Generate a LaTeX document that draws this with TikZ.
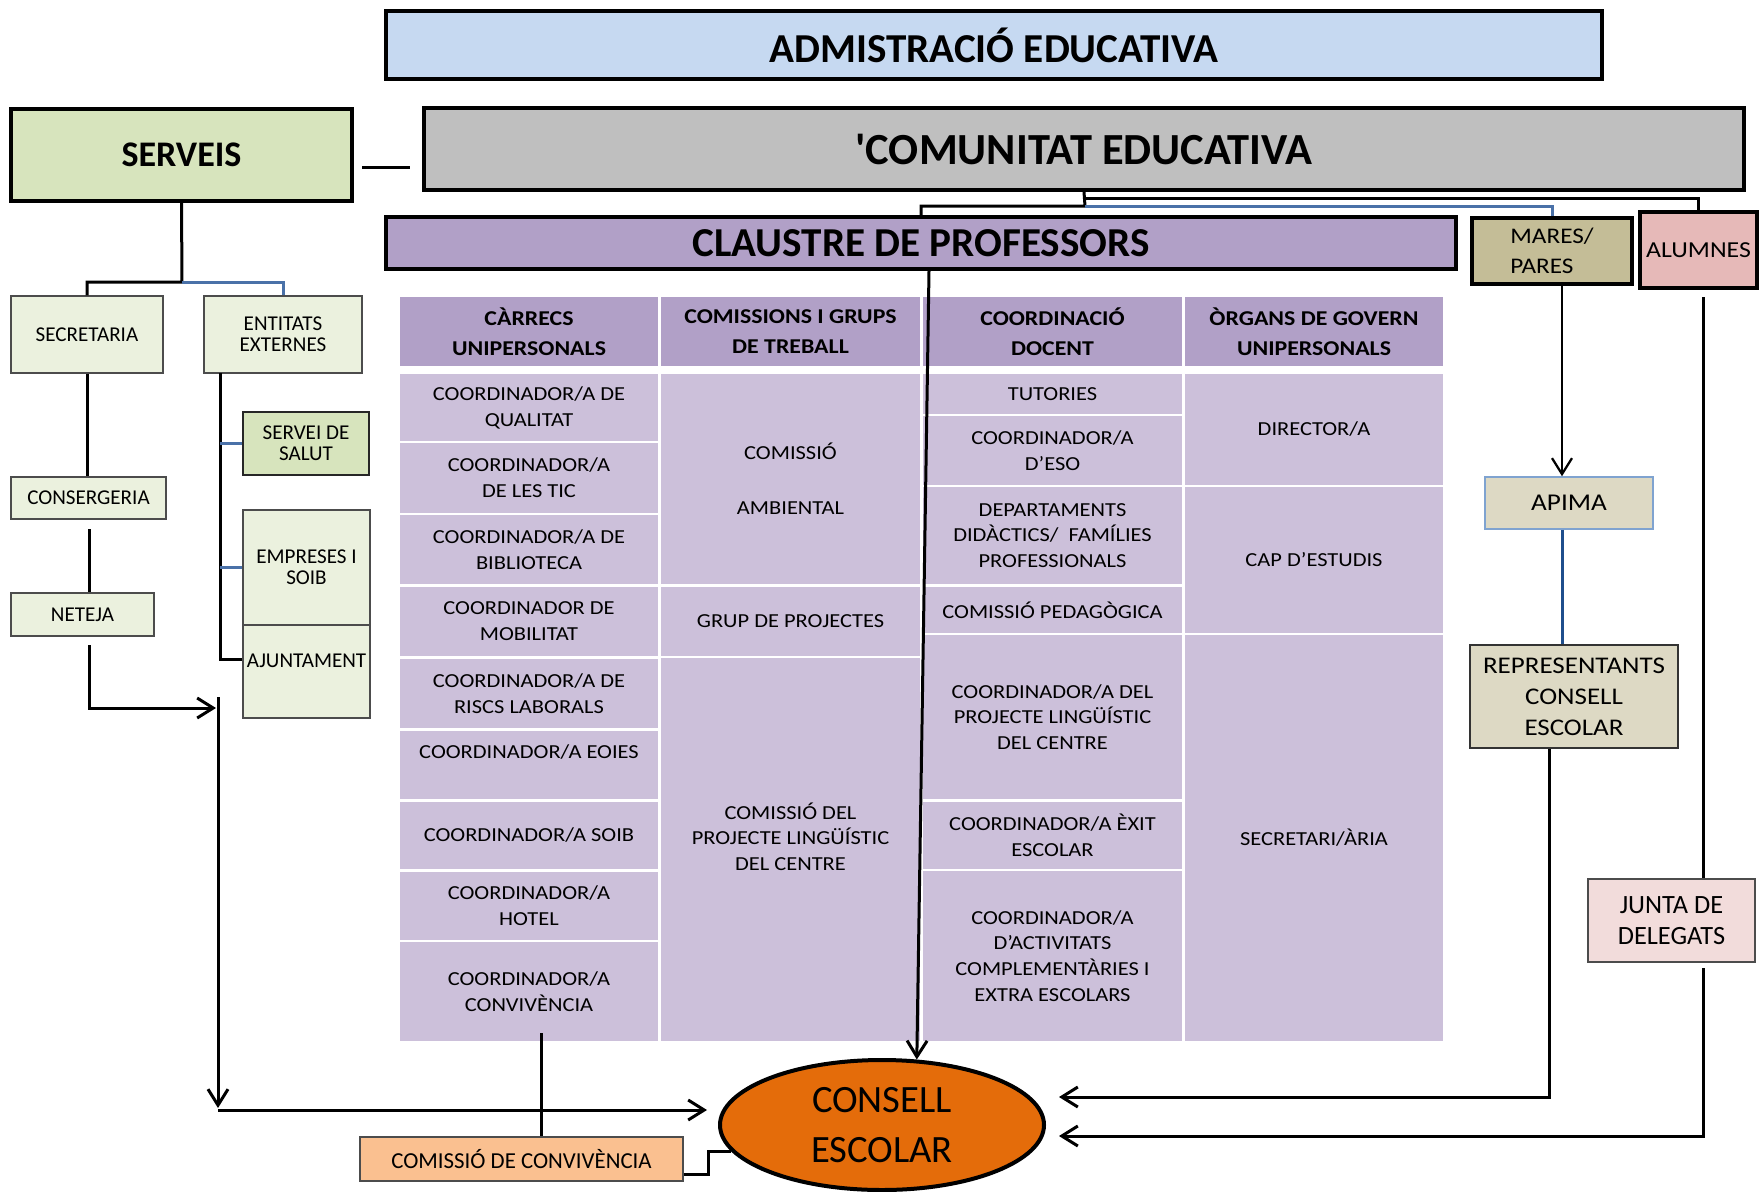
\documentclass[tikz,border=0pt]{standalone}
\usepackage{fontspec}
\setmainfont{Carlito}
\newfontfamily\widefont{Carlito}[FakeStretch=1.13]
\usetikzlibrary{shapes.geometric,arrows.meta}

\definecolor{adminblue}{HTML}{C6D9F1}
\definecolor{servgreen}{HTML}{D7E4BD}
\definecolor{comgray}{HTML}{BFBFBF}
\definecolor{headpurple}{HTML}{B1A0C7}
\definecolor{cellpurple}{HTML}{CCC0DA}
\definecolor{parestan}{HTML}{C4BD97}
\definecolor{alumpink}{HTML}{E6B9B8}
\definecolor{lightgreen}{HTML}{EBF1DE}
\definecolor{apimabeige}{HTML}{DDD9C4}
\definecolor{juntapink}{HTML}{F2DCDB}
\definecolor{consellorange}{HTML}{E46C0A}
\definecolor{comisorange}{HTML}{FAC090}
\definecolor{linkblue}{HTML}{4A71A8}
\definecolor{darklinkblue}{HTML}{1F4E8C}
\definecolor{apimablue}{HTML}{7FA3D0}

\begin{document}
\begin{tikzpicture}[x=0.2mm, y=-0.2mm, >={Straight Barb[length=3.2mm,width=4mm]},
    corners/.style n args={4}{at={({(#1+#3)/2},{(#2+#4)/2})}, minimum width={(#3-#1)*0.2mm}, minimum height={(#4-#2)*0.2mm}}]
    \tikzstyle{bigbox}=[draw, line width=0.8mm, inner sep=0pt, font=\bfseries]
    \tikzstyle{smallbox}=[draw=black!70, line width=0.3mm, fill=lightgreen, inner sep=0pt, align=center, font=\fontsize{12}{12}\selectfont]
    \tikzstyle{cell}=[fill=cellpurple, inner sep=0pt, align=center, font=\widefont\fontsize{11.3}{14.7}\selectfont]
    \tikzstyle{head}=[cell, fill=headpurple, font=\widefont\bfseries\fontsize{12}{17}\selectfont]
    \tikzstyle{conn}=[line width=0.6mm]
    \tikzstyle{blueconn}=[conn, draw=linkblue]

    \useasboundingbox (0,0) rectangle (1764,1192);

    % Draw the top level boxes
    \node[bigbox, fill=adminblue, font=\bfseries\fontsize{23.4}{27}\selectfont, corners={386}{11}{1602}{79}] (admin) {ADMISTRACIÓ EDUCATIVA};
    \node[bigbox, fill=servgreen, font=\bfseries\fontsize{20.5}{24}\selectfont, corners={11}{109}{352}{201}] (serveis) {SERVEIS};
    \node[bigbox, fill=comgray, font=\bfseries\fontsize{25.3}{30}\selectfont, corners={424}{108}{1744}{190}] (comunitat) {\textquotesingle COMUNITAT EDUCATIVA};
    \node[bigbox, fill=headpurple, font=\bfseries\fontsize{23.4}{27}\selectfont, corners={386}{217}{1456}{269}] (claustre) {CLAUSTRE DE PROFESSORS};
    \node[bigbox, fill=parestan, align=left, font=\widefont\fontsize{12.7}{17}\selectfont, corners={1472}{218}{1632}{284}] (mares) {MARES/\\PARES};
    \node[bigbox, fill=alumpink, font=\widefont\fontsize{13}{16}\selectfont, corners={1640}{212}{1757}{288}] (alumnes) {ALUMNES};

    % Draw the table headers
    \foreach \name/\xa/\xb/\txt in {1/400/658/{CÀRRECS\\UNIPERSONALS},
        2/661/920/{COMISSIONS I GRUPS\\DE TREBALL},
        3/923/1182/{COORDINACIÓ\\DOCENT},
        4/1185/1443/{ÒRGANS DE GOVERN\\UNIPERSONALS}}
        \node[head, corners={\xa}{297}{\xb}{366}] (H-\name) {\txt};

    % Draw the cells of the first column
    \foreach \name/\ya/\yb/\txt in {1/374/441/{COORDINADOR/A DE\\QUALITAT},
        2/443/513/{COORDINADOR/A\\DE LES TIC},
        3/515/584/{COORDINADOR/A DE\\BIBLIOTECA},
        4/587/656/{COORDINADOR DE\\MOBILITAT},
        5/659/728/{COORDINADOR/A DE\\RISCS LABORALS},
        6/731/799/{COORDINADOR/A EOIES\\\mbox{}},
        7/802/869/{COORDINADOR/A SOIB},
        8/872/940/{COORDINADOR/A\\HOTEL},
        9/942/1041/{COORDINADOR/A\\CONVIVÈNCIA}}
        \node[cell, corners={400}{\ya}{658}{\yb}] (C1-\name) {\txt};

    % Draw the cells of the second column
    \foreach \name/\ya/\yb/\txt in {1/374/584/{COMISSIÓ\\[5.8mm]AMBIENTAL},
        2/587/656/{GRUP DE PROJECTES},
        3/658/1041/{COMISSIÓ DEL\\PROJECTE LINGÜÍSTIC\\DEL CENTRE\\\mbox{}}}
        \node[cell, corners={661}{\ya}{920}{\yb}] (C2-\name) {\txt};

    % Draw the cells of the third column
    \foreach \name/\ya/\yb/\txt in {1/374/414/{TUTORIES},
        2/416/485/{COORDINADOR/A\\D’ESO},
        3/487/584/{DEPARTAMENTS\\DIDÀCTICS/\ \ FAMÍLIES\\PROFESSIONALS},
        4/587/633/{COMISSIÓ PEDAGÒGICA},
        5/635/799/{COORDINADOR/A DEL\\PROJECTE LINGÜÍSTIC\\DEL CENTRE},
        6/802/869/{COORDINADOR/A ÈXIT\\ESCOLAR},
        7/871/1041/{COORDINADOR/A\\D’ACTIVITATS\\COMPLEMENTÀRIES I\\EXTRA ESCOLARS}}
        \node[cell, corners={923}{\ya}{1182}{\yb}] (C3-\name) {\txt};

    % Draw the cells of the fourth column
    \foreach \name/\ya/\yb/\txt in {1/374/485/{DIRECTOR/A},
        2/487/633/{CAP D’ESTUDIS},
        3/635/1041/{SECRETARI/ÀRIA}}
        \node[cell, corners={1185}{\ya}{1443}{\yb}] (C4-\name) {\txt};

    % Draw the services
    \node[smallbox, corners={11}{296}{163}{373}] (secretaria) {SECRETARIA};
    \node[smallbox, corners={204}{296}{362}{373}] (entitats) {ENTITATS\\EXTERNES};
    \node[smallbox, fill=servgreen, draw=black!85, line width=0.45mm, corners={243}{412}{369}{475}] (salut) {SERVEI DE\\SALUT};
    \node[smallbox, corners={243}{510}{370}{625}] (empreses) {EMPRESES I\\SOIB};
    \node[smallbox, corners={243}{625}{370}{718}] (ajuntament) {AJUNTAMENT\\\mbox{}};
    \node[smallbox, corners={11}{477}{166}{519}] (consergeria) {CONSERGERIA};
    \node[smallbox, corners={11}{593}{154}{636}] (neteja) {NETEJA};

    % Draw the families and the students
    \node[smallbox, fill=apimabeige, draw=apimablue, font=\widefont\fontsize{13.7}{16}\selectfont, corners={1485}{477}{1653}{529}] (apima) {APIMA};
    \node[smallbox, fill=apimabeige, draw=black!80, line width=0.45mm, font=\widefont\fontsize{13.6}{17.6}\selectfont, corners={1470}{645}{1678}{748}] (repr) {REPRESENTANTS\\CONSELL\\ESCOLAR};
    \node[smallbox, fill=juntapink, font=\fontsize{15}{18}\selectfont, corners={1588}{879}{1755}{962}] (junta) {JUNTA DE\\DELEGATS};

    % Draw the school council
    \node[smallbox, fill=comisorange, font=\fontsize{13}{15}\selectfont, corners={360}{1137}{683}{1181}] (comissio) {COMISSIÓ DE CONVIVÈNCIA};
    \node[ellipse, draw, line width=0.8mm, fill=consellorange, minimum width=64.8mm, minimum height=26mm, inner sep=0pt, align=center, font=\fontsize{22}{28}\selectfont] (consell) at (882,1125) {CONSELL\\ESCOLAR};

    % Connect the community with the staff, the families and the students
    \coordinate (cj) at (1085,206);
    \coordinate (cj2) at (1085,198);
    \draw[conn] (comunitat.south) -- (cj) -| (claustre.north);
    \draw[conn] (cj2) -| (alumnes.north);
    \draw[blueconn] (cj) -| (mares.north);
    \coordinate (sv-c) at (0,167);
    \draw[conn, shorten <=1.6mm, shorten >=2.4mm] (serveis.east |- sv-c) -- (comunitat.west |- sv-c);

    % Connect the services
    \coordinate (sv-j) at (182,282);
    \draw[conn] (serveis.south) -- (sv-j) -| (secretaria.north);
    \draw[blueconn] (sv-j) -| (entitats.north);
    \draw[conn] (secretaria.south) -- (secretaria.south |- consergeria.north);
    \coordinate (cs-a) at (89,529);
    \draw[conn] (cs-a) -- (cs-a |- neteja.north);
    \coordinate (nt-a) at (89,645);
    \coordinate (hub-in) at (216,708);
    \draw[conn,->] (nt-a) |- (hub-in);
    \coordinate (en-a) at (220,373);
    \draw[conn] (en-a) |- ([yshift=2.4mm]ajuntament.west);
    \draw[blueconn] (salut.west) -- (salut.west -| en-a);
    \draw[blueconn] (empreses.west) -- (empreses.west -| en-a);

    % Everything goes to the school council
    \coordinate (hub-a) at (218,697);
    \coordinate (hub-b) at (218,1108);
    \coordinate (ce-l) at (707,1110);
    \draw[conn,->] (hub-a) -- (hub-b);
    \draw[conn,->] (hub-b |- ce-l) -- (ce-l);
    \draw[conn,->] ([xshift=1.6mm]claustre.south) -- (consell.62);
    \coordinate (cv) at (541,1033);
    \draw[conn] (cv) -- (cv |- comissio.north);
    \draw[conn] ([yshift=-3mm]comissio.east) -- ++(25,0) |- (consell.190);

    \coordinate (pa) at (1562,0);
    \draw[line width=0.45mm,->] (mares.south -| pa) -- (apima.north -| pa);
    \draw[conn, draw=darklinkblue] (apima.south -| pa) -- (repr.north -| pa);
    \coordinate (rp) at (1549,0);
    \coordinate (ce-r1) at (1059,1097);
    \draw[conn,->] (repr.south -| rp) |- (ce-r1);
    \coordinate (al) at (1703,297);
    \draw[conn] (al) -- (al |- junta.north);
    \coordinate (jd) at (1703,968);
    \coordinate (ce-r2) at (1059,1136);
    \draw[conn,->] (jd) |- (ce-r2);
\end{tikzpicture}
\end{document}
